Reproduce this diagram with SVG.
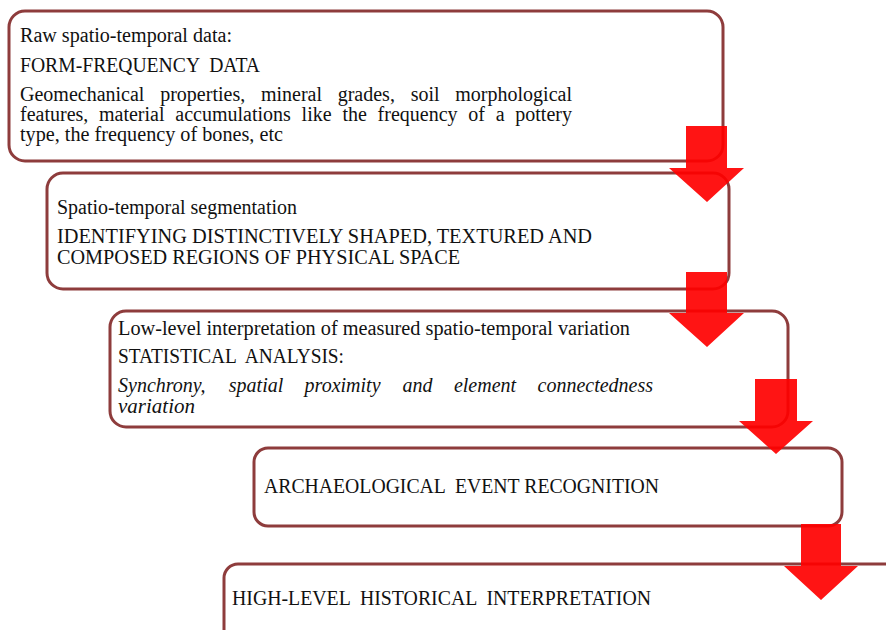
<svg xmlns="http://www.w3.org/2000/svg" width="886" height="630" viewBox="0 0 886 630">
<style>
.box{fill:#ffffff;stroke:#8e3c3c;stroke-width:3}
.t{font-family:'Liberation Serif','DejaVu Serif','Times New Roman',serif;font-size:20px;fill:#111111}
.i{font-style:italic}
.arr{fill:#ff0000;fill-opacity:0.92}
</style>
<rect width="886" height="630" fill="#ffffff"/>
<g id="node1">
<rect class="box" x="9" y="11" width="714" height="150" rx="16"/>
<text class="t" x="20" y="42" textLength="212" lengthAdjust="spacingAndGlyphs">Raw spatio-temporal data:</text>
<text class="t" x="20" y="72" textLength="240" lengthAdjust="spacingAndGlyphs" xml:space="preserve">FORM-FREQUENCY  DATA</text>
<text class="t" y="101"><tspan x="20">Geomechanical</tspan><tspan x="160.2">properties,</tspan><tspan x="260.9">mineral</tspan><tspan x="337.7">grades,</tspan><tspan x="410.7">soil</tspan><tspan x="455.3">morphological</tspan></text>
<text class="t" y="121"><tspan x="20">features,</tspan><tspan x="99">material</tspan><tspan x="175.3">accumulations</tspan><tspan x="301.6">like</tspan><tspan x="342.4">the</tspan><tspan x="377.6">frequency</tspan><tspan x="468.3">of</tspan><tspan x="495.7">a</tspan><tspan x="515.3">pottery</tspan></text>
<text class="t" x="20" y="141" textLength="263" lengthAdjust="spacingAndGlyphs">type, the frequency of bones, etc</text>
</g>
<g id="node2">
<rect class="box" x="47" y="173" width="682" height="116" rx="16"/>
<text class="t" x="57" y="214" textLength="240" lengthAdjust="spacingAndGlyphs">Spatio-temporal segmentation</text>
<text class="t" x="57" y="243" textLength="535" lengthAdjust="spacingAndGlyphs">IDENTIFYING DISTINCTIVELY SHAPED, TEXTURED AND</text>
<text class="t" x="57" y="264" textLength="403" lengthAdjust="spacingAndGlyphs">COMPOSED REGIONS OF PHYSICAL SPACE</text>
</g>
<g id="node3">
<rect class="box" x="110" y="311" width="678" height="116" rx="16"/>
<text class="t" x="118" y="335" textLength="512" lengthAdjust="spacingAndGlyphs">Low-level interpretation of measured spatio-temporal variation</text>
<text class="t" x="118" y="363" textLength="226" lengthAdjust="spacingAndGlyphs" xml:space="preserve">STATISTICAL  ANALYSIS:</text>
<text class="t i" y="392"><tspan x="118">Synchrony,</tspan><tspan x="228.8">spatial</tspan><tspan x="304.6">proximity</tspan><tspan x="402.6">and</tspan><tspan x="453.9">element</tspan><tspan x="537.5">connectedness</tspan></text>
<text class="t i" x="118" y="413" textLength="77" lengthAdjust="spacingAndGlyphs">variation</text>
</g>
<g id="node4">
<rect class="box" x="254" y="448" width="588" height="78" rx="14"/>
<text class="t" x="264" y="493" textLength="395" lengthAdjust="spacingAndGlyphs" xml:space="preserve">ARCHAEOLOGICAL  EVENT RECOGNITION</text>
</g>
<g id="node5">
<rect class="box" x="224" y="564" width="700" height="100" rx="14"/>
<text class="t" x="232" y="605" textLength="419" lengthAdjust="spacingAndGlyphs" xml:space="preserve">HIGH-LEVEL  HISTORICAL  INTERPRETATION</text>
</g>
<g id="connectors">
<polygon class="arr" points="686,126 727,126 727,168 744,168 707,202 669,168 686,168"/>
<polygon class="arr" points="686,272 727,272 727,313 744,313 707,347 669,313 686,313"/>
<polygon class="arr" points="755,379 797,379 797,421 813,421 776,454 739,421 755,421"/>
<polygon class="arr" points="801,524 841,524 841,566 858,566 821,600 784,566 801,566"/>
</g>
</svg>
